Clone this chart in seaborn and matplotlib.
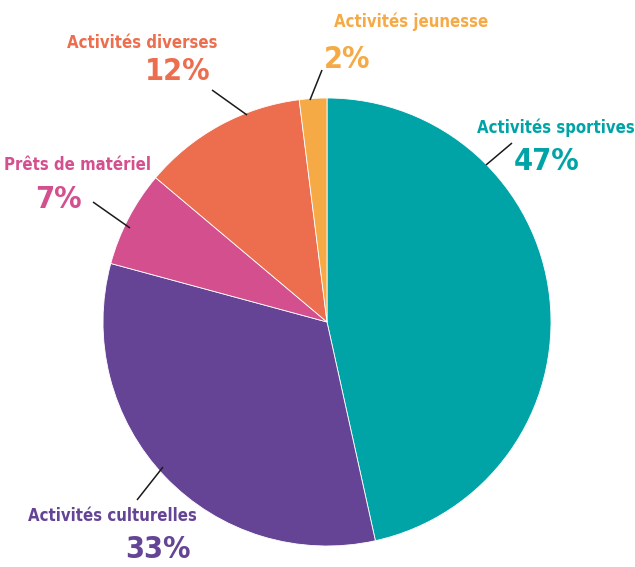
import matplotlib
matplotlib.use("Agg")
import matplotlib.pyplot as plt
from matplotlib import font_manager
import seaborn as sns

# Répartition des activités (en %)
categories = ["Activités sportives", "Activités culturelles", "Prêts de matériel",
              "Activités diverses", "Activités jeunesse"]
values = [47, 33, 7, 12, 2]
pct_labels = ["47%", "33%", "7%", "12%", "2%"]
colors = ["#00A4A7", "#654495", "#D44F8E", "#EC6E4F", "#F5AA46"]

sns.set_theme(style="white")

# prefer a narrow bold face when one is available
condensed = [f for f in font_manager.fontManager.ttflist
             if f.stretch in ("condensed", "semi-condensed", "extra-condensed")
             or "Narrow" in f.name or "Condensed" in f.name]
FONT = ["DejaVu Sans"]
if condensed:
    FONT = [condensed[0].name, "DejaVu Sans"]
plt.rcParams["font.family"] = FONT

W, H = 635, 567
fig = plt.figure(figsize=(W / 100, H / 100), dpi=100)
ax = fig.add_axes([0, 0, 1, 1])

cx, cy, R = 327, 322, 224
# y axis is inverted, so counterclock=True runs clockwise on screen
ax.pie(values, colors=colors, startangle=-90, counterclock=True,
       center=(cx, cy), radius=R, frame=True,
       wedgeprops=dict(edgecolor="white", linewidth=0.6))
ax.set_xlim(0, W)
ax.set_ylim(H, 0)
ax.set_aspect("equal")
ax.axis("off")

# label placement: (name xy, pct xy, leader start, leader end)
layout = [
    ((556, 128), (547, 161), (512, 143), (486, 165)),
    ((112, 516), (158, 550), (137, 500), (163, 467)),
    ((78, 165), (58, 200), (93, 202), (130, 228)),
    ((142, 43), (178, 72), (212, 90), (247, 115)),
    ((411, 22), (347, 59), (322, 70), (310, 100)),
]

for name, pct, col, (nxy, pxy, l0, l1) in zip(categories, pct_labels, colors, layout):
    ax.text(*nxy, name, color=col, fontsize=12, fontweight="bold",
            ha="center", va="center", family=FONT, fontstretch="condensed")
    ax.text(*pxy, pct, color=col, fontsize=22, fontweight="bold",
            ha="center", va="center", family=FONT, fontstretch="condensed")
    ax.plot([l0[0], l1[0]], [l0[1], l1[1]], color="#1a1a1a", linewidth=1.1,
            solid_capstyle="butt")

fig.savefig("out.png", dpi=100, facecolor="white")
